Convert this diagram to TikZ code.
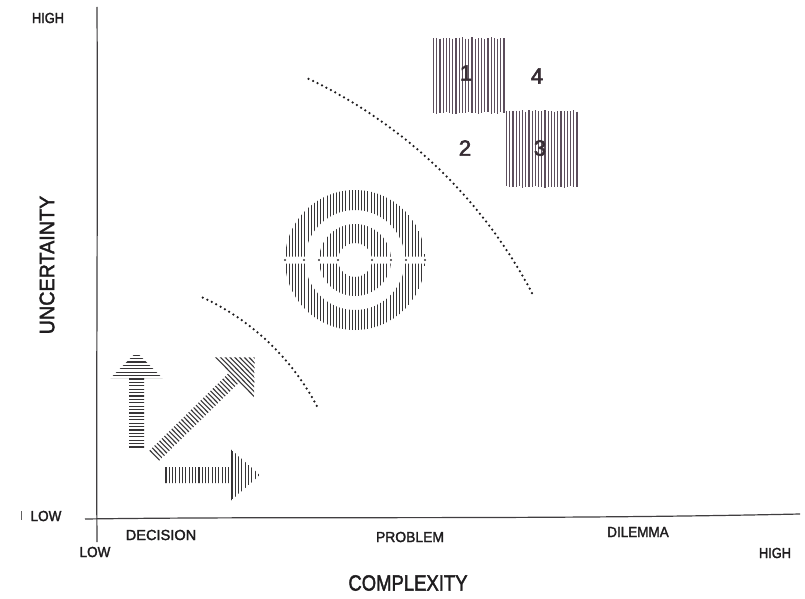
\documentclass[tikz,border=0pt]{standalone}
\usepackage{fontspec}
\setmainfont{Liberation Sans}
\newfontfamily\handfont{Liberation Sans}[UprightFeatures={FakeBold=2}]
\newfontfamily\digitfont{Liberation Sans}[UprightFeatures={FakeBold=2.6}]
\definecolor{txt}{RGB}{30,28,30}
\definecolor{sqcol}{RGB}{92,78,92}
\definecolor{hatchcol}{RGB}{55,53,55}
\definecolor{digcol}{RGB}{55,45,52}
\begin{document}
\begin{tikzpicture}[x=1pt,y=-1pt,
  axisline/.style={line width=1.2pt, draw=txt!85},
  hatch/.style={line width=1.1pt, draw=hatchcol},
  sqhatch/.style={line width=1.2pt, draw=sqcol},
  ringhatch/.style={line width=0.9pt, draw=hatchcol},
  lab/.style={inner sep=0pt, text=txt, font=\handfont\fontsize{13.5}{13.5}\selectfont},
  biglab/.style={inner sep=0pt, text=txt, font=\handfont\fontsize{21}{21}\selectfont},
  digit/.style={inner sep=0pt, text=digcol, font=\digitfont\fontsize{22}{22}\selectfont},
  dotline/.style={line width=2.5pt, line cap=round, dash pattern=on 0pt off 5pt, draw=txt},
]
\useasboundingbox (0,0) rectangle (805,599);
\fill[white] (0,0) rectangle (805,599);

% axes
\coordinate (yTop) at (97,7);
\coordinate (yBot) at (97,542);
\coordinate (xL) at (85,519);
\coordinate (xR) at (800,514);
\draw[axisline] (yTop) .. controls (98,200) and (96,400) .. (yBot);
\draw[axisline] (xL) .. controls (300,516) and (520,520) .. (xR);

% axis labels
\node[lab] (hiY) at (48,18) {\scalebox{0.95}[1.08]{HIGH}};
\node[lab] (loY) at (46,516) {\scalebox{1}[1.08]{LOW}};
\coordinate (mk1) at (21,511);
\coordinate (mk2) at (21,520);
\draw[line width=0.8pt, draw=txt!70] (mk1) -- (mk2);
\node[biglab, rotate=90] (unc) at (47,265) {\scalebox{0.94}[1]{UNCERTAINTY}};
\node[lab] (dec) at (161,535) {\scalebox{1.08}[1.08]{DECISION}};
\node[lab] (prob) at (410,537) {\scalebox{1.03}[1.08]{PROBLEM}};
\node[lab] (dil) at (638,532) {\scalebox{1.0}[1.08]{DILEMMA}};
\node[lab] (loX) at (95,552) {\scalebox{1}[1.08]{LOW}};
\node[lab] (hiX) at (775,553) {\scalebox{0.95}[1.08]{HIGH}};
\node[biglab] (cx) at (408,583) {\scalebox{0.88}[1.05]{COMPLEXITY}};

% dotted arcs
\draw[dotline] plot[domain=64.7:27.6, samples=90] ({100+488*cos(\x)},{520-488*sin(\x)});
\draw[dotline] plot[domain=65.2:27.2, samples=60] ({100+245*cos(\x)},{520-245*sin(\x)});

% hatched squares
\pgfmathsetseed{7}
\foreach \x in {433.5,436.7,...,505} {
  \draw[sqhatch] (\x,{38+0.8*rand}) -- (\x,{113+0.8*rand});
}
\foreach \x in {506.5,509.7,...,578} {
  \draw[sqhatch] (\x,{111+0.8*rand}) -- (\x,{187+0.8*rand});
}
\node[digit] (n1) at (466,73) {1};
\node[digit] (n4) at (537,76) {4};
\node[digit] (n2) at (465,148) {2};
\node[digit] (n3) at (540,148) {3};

% target rings
\begin{scope}[even odd rule]
  \clip (355,260) circle[radius=70] (355,260) circle[radius=50]
        (355,260) circle[radius=36] (355,260) circle[radius=17];
  \clip (280,185) rectangle (430,256.5) (280,263.5) rectangle (430,335);
  \foreach \x in {286,289.15,...,425} \draw[ringhatch] (\x,185) -- (\x,335);
\end{scope}
\foreach \d in {-70,-51,-36,-17,17,36,51,70} \fill[hatchcol] ({355+\d},260) circle[radius=1.2];

% up arrow
\begin{scope}[shift={(136.5,448)}, rotate=90]
  \clip (0,-7.5) -- (70,-7.5) -- (70,-26) -- (96,0) -- (70,26) -- (70,7.5) -- (0,7.5) -- cycle;
  \foreach \t in {1,4.4,...,96} \draw[hatch] (\t,-30) -- (\t,30);
\end{scope}

% diagonal arrow
\begin{scope}[shift={(154,456)}, rotate=44.4]
  \clip (0,-7) -- (112,-7) -- (112,-28.5) -- (141,0) -- (112,28.5) -- (112,7) -- (0,7) -- cycle;
  \foreach \t in {1,4.4,...,141} \draw[hatch] (\t,-30) -- (\t,30);
\end{scope}

% right arrow
\begin{scope}[shift={(165,475)}]
  \clip (0,-8) -- (66,-8) -- (66,-25.5) -- (95,0) -- (66,25.5) -- (66,8) -- (0,8) -- cycle;
  \foreach \t in {1,4.3,...,95} \draw[hatch] (\t,-30) -- (\t,30);
\end{scope}
\end{tikzpicture}
\end{document}
